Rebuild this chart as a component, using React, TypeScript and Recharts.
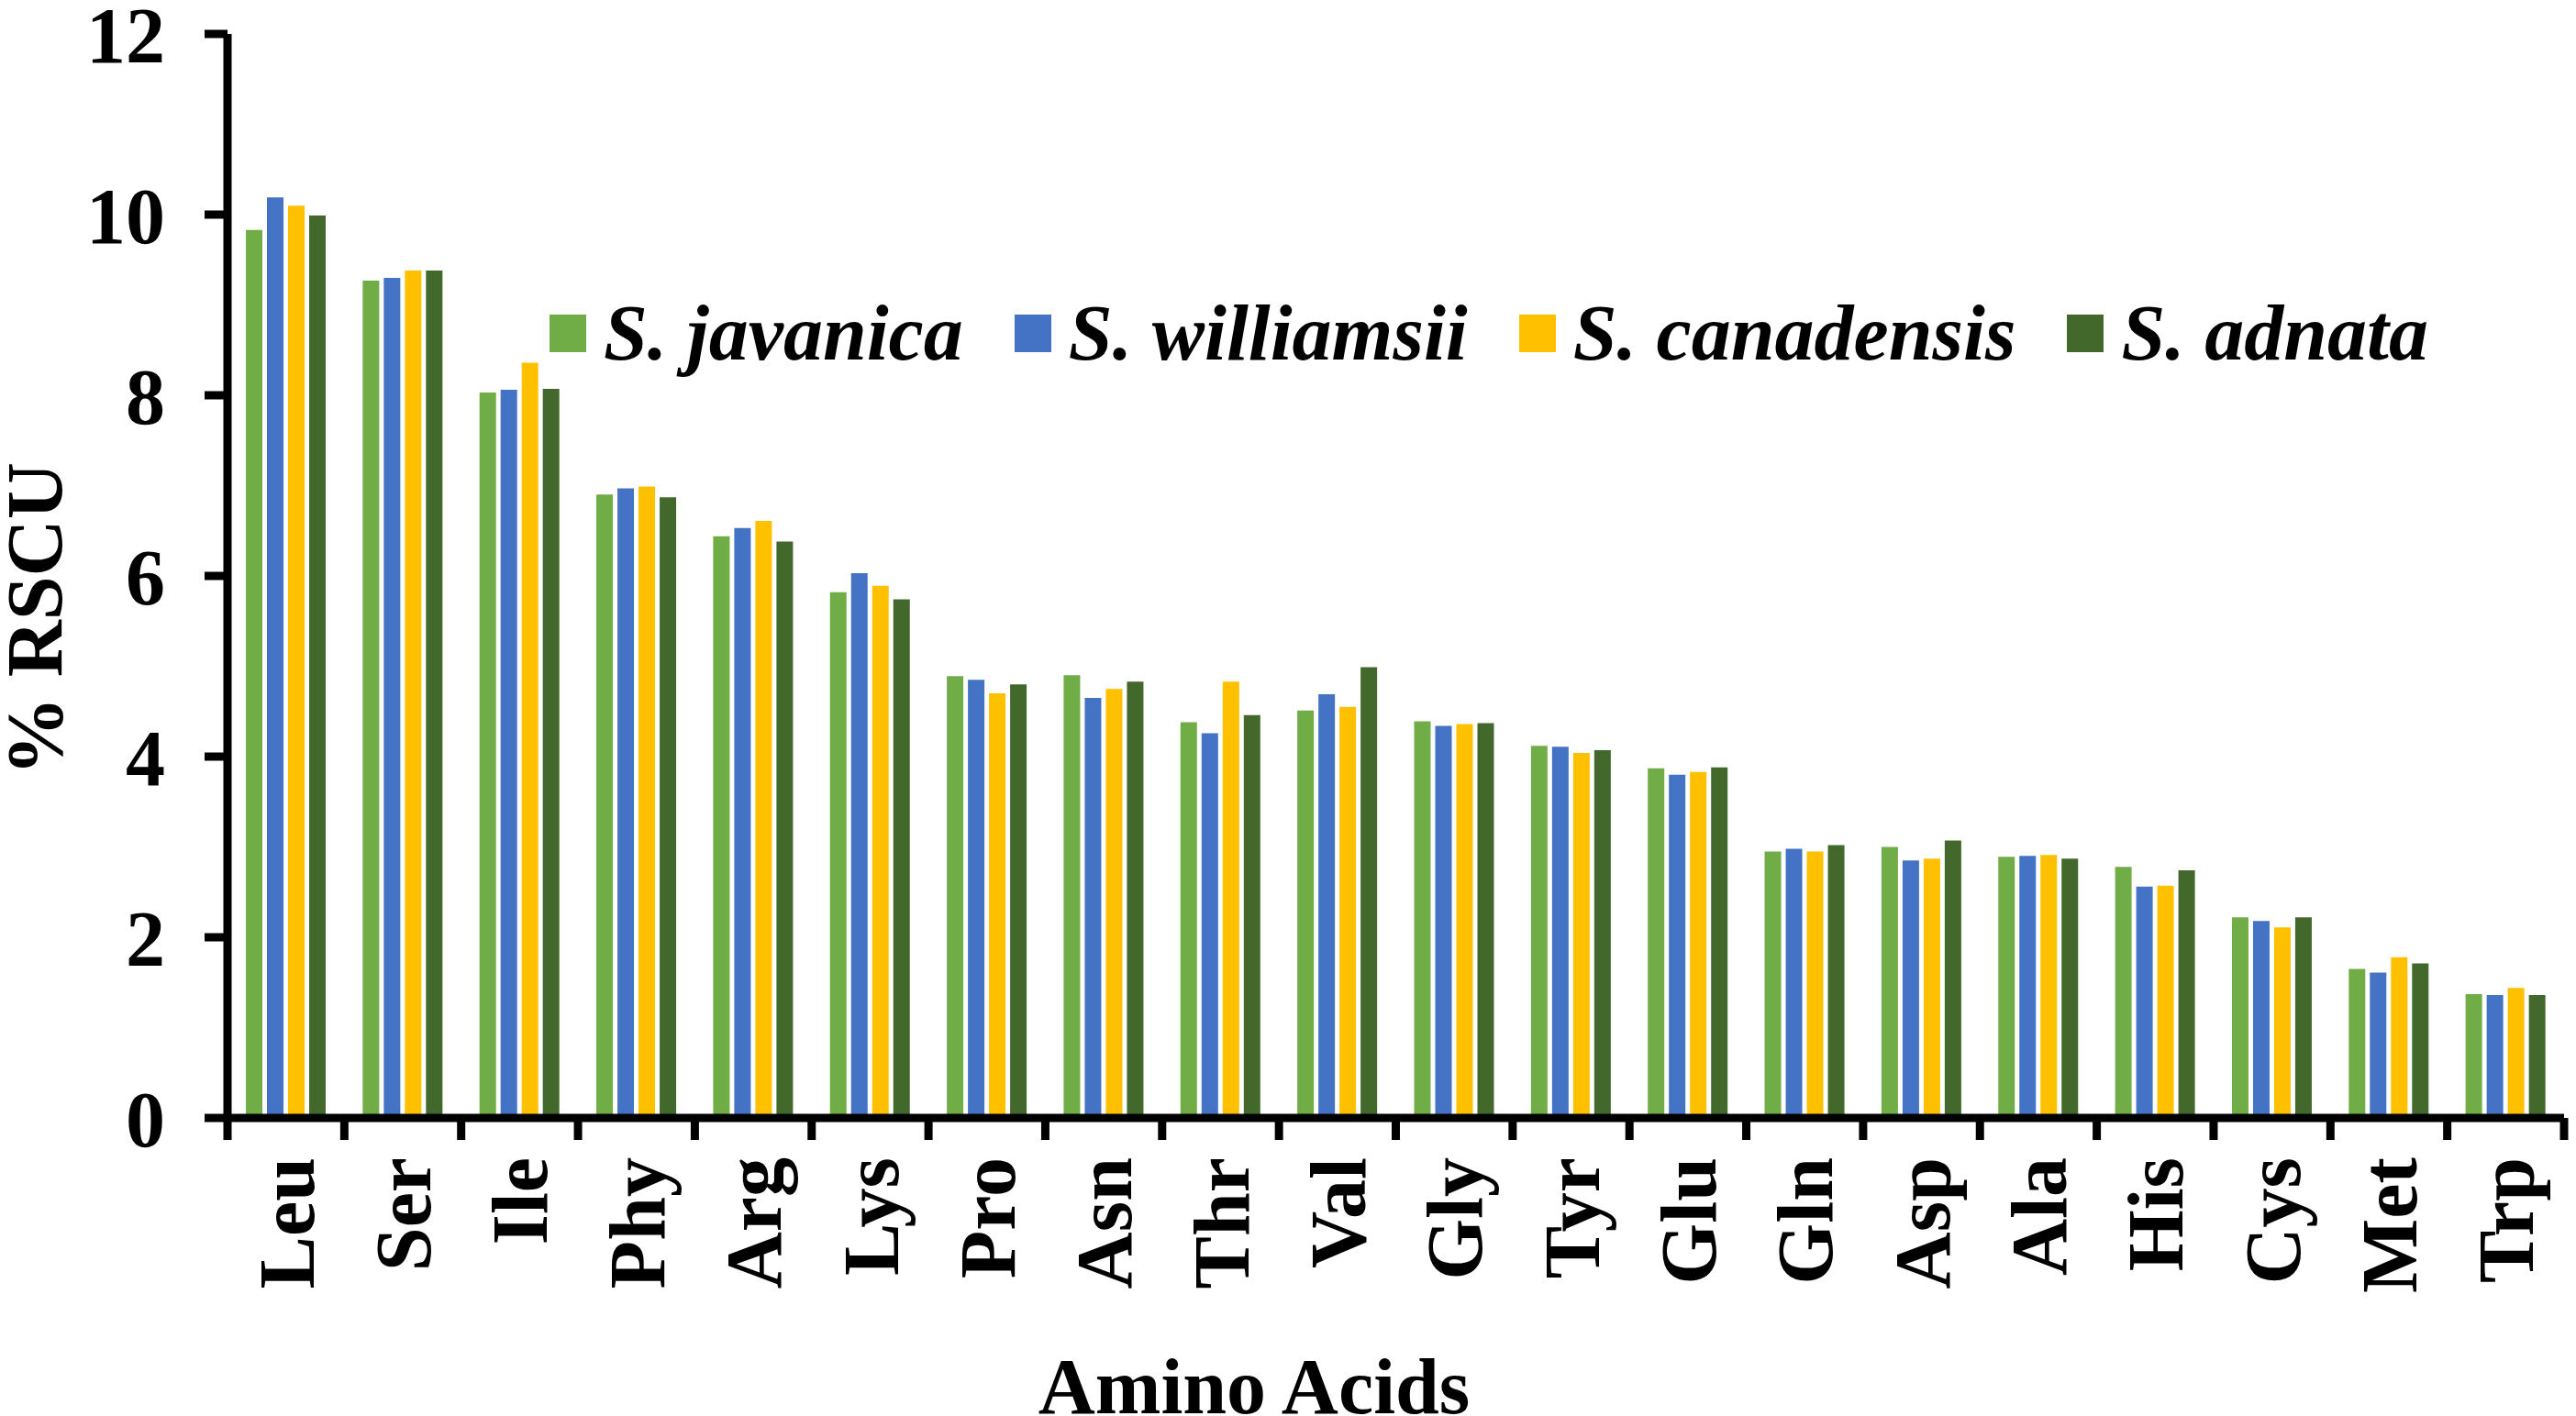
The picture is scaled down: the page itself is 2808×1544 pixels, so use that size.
import { BarChart, Bar, XAxis, YAxis, Legend } from "recharts";

const aminoAcids = [
  "Leu", "Ser", "Ile", "Phy", "Arg", "Lys", "Pro", "Asn", "Thr", "Val",
  "Gly", "Tyr", "Glu", "Gln", "Asp", "Ala", "His", "Cys", "Met", "Trp",
];

// % RSCU per species, same order as aminoAcids
const javanica = [9.83, 9.27, 8.03, 6.9, 6.44, 5.82, 4.89, 4.9, 4.38, 4.51, 4.39, 4.12, 3.87, 2.95, 3.0, 2.89, 2.78, 2.22, 1.65, 1.37];
const williamsii = [10.19, 9.3, 8.06, 6.97, 6.53, 6.03, 4.85, 4.65, 4.26, 4.69, 4.34, 4.11, 3.8, 2.98, 2.85, 2.9, 2.56, 2.18, 1.61, 1.36];
const canadensis = [10.1, 9.38, 8.36, 6.99, 6.61, 5.89, 4.7, 4.75, 4.83, 4.55, 4.36, 4.04, 3.83, 2.95, 2.87, 2.91, 2.57, 2.11, 1.78, 1.44];
const adnata = [9.99, 9.38, 8.07, 6.87, 6.38, 5.74, 4.8, 4.83, 4.46, 4.99, 4.37, 4.07, 3.88, 3.02, 3.07, 2.87, 2.74, 2.22, 1.71, 1.36];

const yTicks = [0, 2, 4, 6, 8, 10, 12];

const series = [
  { key: "javanica", name: "S. javanica", color: "#70AD47" },
  { key: "williamsii", name: "S. williamsii", color: "#4472C4" },
  { key: "canadensis", name: "S. canadensis", color: "#FFC000" },
  { key: "adnata", name: "S. adnata", color: "#43682B" },
];

const data = aminoAcids.map((name, i) => ({
  name,
  javanica: javanica[i],
  williamsii: williamsii[i],
  canadensis: canadensis[i],
  adnata: adnata[i],
}));

const FONT = "'Liberation Serif', 'Times New Roman', serif";
const W = 2800;
const H = 1536;
const PLOT_LEFT = 240;
const PLOT_RIGHT = 2787;
const BAND = (PLOT_RIGHT - PLOT_LEFT) / aminoAcids.length;

function XTick(props: any) {
  const { x, y, payload, index } = props;
  const half = payload && typeof payload.offset === "number" && payload.offset > 0 ? payload.offset : BAND / 2;
  const ty = y + 43;
  const last = index === aminoAcids.length - 1;
  return (
    <g>
      <line x1={x - half} x2={x - half} y1={y} y2={y + 24} stroke="#000" strokeWidth={9} />
      {last && <line x1={x + half} x2={x + half} y1={y} y2={y + 24} stroke="#000" strokeWidth={9} />}
      <text
        x={x}
        y={ty}
        dy="0.35em"
        transform={`rotate(-90, ${x}, ${ty})`}
        textAnchor="end"
        fontFamily={FONT}
        fontWeight="bold"
        fontSize={86}
        fill="#000"
      >
        {payload.value}
      </text>
    </g>
  );
}

// legend drawn in series order (the default legend sorts by name)
function LegendContent() {
  return (
    <div
      style={{
        display: "flex",
        alignItems: "center",
        fontFamily: FONT,
        fontWeight: "bold",
        fontStyle: "italic",
        fontSize: 86,
        lineHeight: "86px",
        whiteSpace: "nowrap",
      }}
    >
      {series.map((s) => (
        <div key={s.key} style={{ display: "flex", alignItems: "center", marginRight: 56 }}>
          <span style={{ display: "inline-block", width: 40, height: 41, background: s.color, marginRight: 19 }} />
          <span>{s.name}</span>
        </div>
      ))}
    </div>
  );
}

export default function App() {
  return (
    <div style={{ width: W, height: H, position: "relative", background: "#fff" }}>
      <BarChart
        width={W}
        height={H}
        data={data}
        margin={{ top: 29, right: W - PLOT_RIGHT, left: 0, bottom: 0 }}
        barCategoryGap="15.7%"
        barGap={5}
      >
        <XAxis
          dataKey="name"
          height={H - 29 - 1182}
          interval={0}
          tickLine={false}
          tickSize={0}
          tickMargin={0}
          axisLine={{ stroke: "#000", strokeWidth: 9 }}
          tick={<XTick />}
          label={{
            content: () => (
              <text x={1359} y={1533} textAnchor="middle" fontFamily={FONT} fontWeight="bold" fontSize={86} fill="#000">
                Amino Acids
              </text>
            ),
          }}
        />
        <YAxis
          width={PLOT_LEFT}
          domain={[0, 12]}
          ticks={yTicks}
          interval={0}
          tickSize={25}
          tickMargin={43}
          axisLine={{ stroke: "#000", strokeWidth: 9 }}
          tickLine={{ stroke: "#000", strokeWidth: 9 }}
          tick={{ fontFamily: FONT, fontWeight: "bold", fontSize: 86, fill: "#000" }}
          label={{
            content: () => (
              <text
                x={59}
                y={667}
                transform="rotate(-90, 59, 667)"
                textAnchor="middle"
                fontFamily={FONT}
                fontWeight="bold"
                fontSize={86}
                fill="#000"
              >
                % RSCU
              </text>
            ),
          }}
        />
        <Legend
          layout="horizontal"
          verticalAlign="middle"
          align="center"
          content={<LegendContent />}
          wrapperStyle={{ left: 591, top: 312, width: 2200, height: 86 }}
        />
        {series.map((s) => (
          <Bar key={s.key} dataKey={s.key} name={s.name} fill={s.color} isAnimationActive={false} />
        ))}
      </BarChart>
    </div>
  );
}
